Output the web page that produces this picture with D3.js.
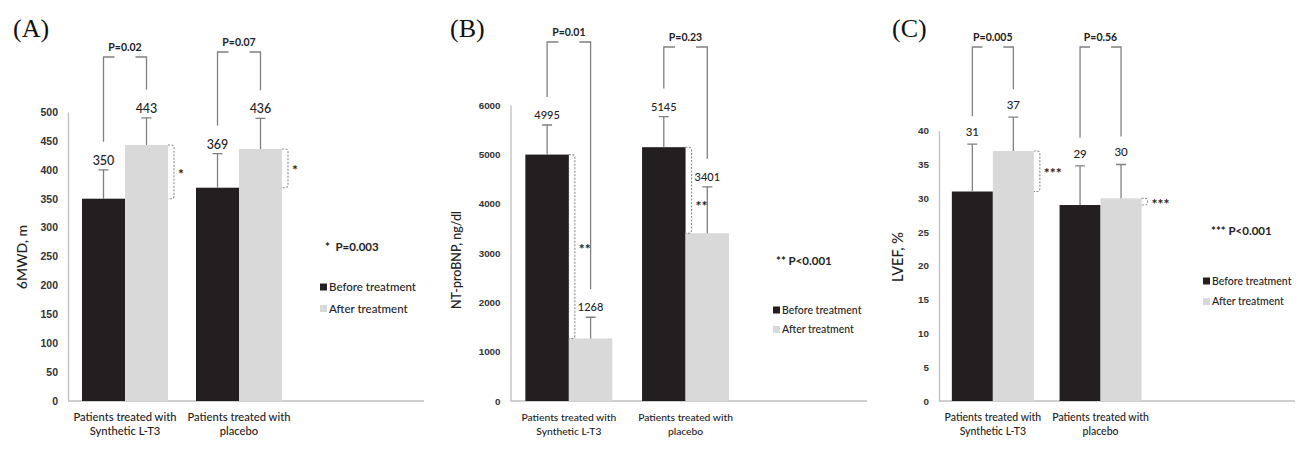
<!DOCTYPE html>
<html>
<head>
<meta charset="utf-8">
<script src="https://cdn.jsdelivr.net/npm/d3@7"></script>
<style>
  html, body { margin: 0; padding: 0; background: #fff; }
  svg { display: block; font-family: Lato, "Open Sans", sans-serif; }
</style>
</head>
<body>
<div id="chart"></div>
<script>
// data
const categories = ["Patients treated with Synthetic L-T3", "Patients treated with placebo"];
const categoryLines = [["Patients treated with", "Synthetic L-T3"], ["Patients treated with", "placebo"]];
const series = ["Before treatment", "After treatment"];

// (A) 6MWD
const mwdBefore = [350, 369];
const mwdAfter = [443, 436];
const mwdSdBefore = [50, 59];
const mwdSdAfter = [47, 53];
const mwdP = ["P=0.02", "P=0.07"];
const mwdTicks = [0, 50, 100, 150, 200, 250, 300, 350, 400, 450, 500];

// (B) NT-proBNP
const bnpBefore = [4995, 5145];
const bnpAfter = [1268, 3401];
const bnpSdBefore = [600, 620];
const bnpSdAfter = [430, 940];
const bnpP = ["P=0.01", "P=0.23"];
const bnpTicks = [0, 1000, 2000, 3000, 4000, 5000, 6000];

// (C) LVEF
const lvefBefore = [31, 29];
const lvefAfter = [37, 30];
const lvefSdBefore = [7, 5.8];
const lvefSdAfter = [5, 5];
const lvefP = ["P=0.005", "P=0.56"];
const lvefTicks = [0, 5, 10, 15, 20, 25, 30, 35, 40];

const colors = { before: '#231f20', after: '#d9d9d9', axis: '#bfbfbf', line: '#808080', text: '#222' };

const width = 1302;
const height = 457;

const svg = d3.select('#chart')
	.append('svg')
	.attr('width', width)
	.attr('height', height)
	.attr('viewBox', [0, 0, width, height]);

// 每个面板的布局
const panels = [
	{
		letter: '(A)', letterX: 13, x0: 68, yTop: 112, yBottom: 401, xEnd: 424, step: 114, bw: 86,
		max: 500, ticks: mwdTicks, before: mwdBefore, after: mwdAfter, sdBefore: mwdSdBefore, sdAfter: mwdSdAfter,
		p: mwdP, bracketTop: [57, 52], star: '*', starDy: [0, 0], note: '*  P=0.003', noteX: 325, noteY: 251,
		legX: 320, legY: 287, legGap: 21.5, yLabel: '6MWD, m', yLabelX: 22, yLabelY: 257,
		tickFont: 10.5, valueFont: 12.5, catFont: 11.2, legFont: 11.5, pFont: 10.5, yFont: 14, labelGap: 5
	},
	{
		letter: '(B)', letterX: 450, x0: 510.5, yTop: 105, yBottom: 401, xEnd: 867, step: 116.7, bw: 87,
		max: 6000, ticks: bnpTicks, before: bnpBefore, after: bnpAfter, sdBefore: bnpSdBefore, sdAfter: bnpSdAfter,
		p: bnpP, bracketTop: [42, 47], star: '**', starDy: [0, 14], note: '** P<0.001', noteX: 776, noteY: 265,
		legX: 773, legY: 310, legGap: 19.5, yLabel: 'NT-proBNP, ng/dl', yLabelX: 457, yLabelY: 260,
		tickFont: 9.8, valueFont: 11, catFont: 10.3, legFont: 10.5, pFont: 10.5, yFont: 12.5, labelGap: 6
	},
	{
		letter: '(C)', letterX: 892, x0: 939, yTop: 130.7, yBottom: 401, xEnd: 1295, step: 107.7, bw: 82,
		max: 40, ticks: lvefTicks, before: lvefBefore, after: lvefAfter, sdBefore: lvefSdBefore, sdAfter: lvefSdAfter,
		p: lvefP, bracketTop: [47, 47], star: '***', starDy: [0, 0], note: '*** P<0.001', noteX: 1211, noteY: 235,
		legX: 1203, legY: 281, legGap: 20.7, yLabel: 'LVEF, %', yLabelX: 898, yLabelY: 257,
		tickFont: 9.8, valueFont: 11.5, catFont: 10.5, legFont: 10.5, pFont: 10.5, yFont: 14.5, labelGap: 8
	}
];

function drawPanel(cfg) {
	const g = svg.append('g');

	const y = d3.scaleLinear()
		.domain([0, cfg.max])
		.range([cfg.yBottom, cfg.yTop]);

	const pad = 1 - cfg.bw / cfg.step;
	const x = d3.scaleBand()
		.domain(categories)
		.range([cfg.x0, cfg.x0 + 2 * cfg.step])
		.paddingInner(pad)
		.paddingOuter(pad / 2);

	const xs = d3.scaleBand()
		.domain(series)
		.range([0, x.bandwidth()]);

	const rows = categories.map((c, i) => ({
		cat: c,
		i,
		bars: [
			{ s: series[0], v: cfg.before[i], sd: cfg.sdBefore[i], fill: colors.before },
			{ s: series[1], v: cfg.after[i], sd: cfg.sdAfter[i], fill: colors.after }
		]
	}));
	const barX = (r, b) => x(r.cat) + xs(b.s);
	const barC = (r, b) => barX(r, b) + xs.bandwidth() / 2;

	// panel letter
	g.append('text')
		.attr('x', cfg.letterX)
		.attr('y', 37)
		.attr('font-family', '"Liberation Serif", "DejaVu Serif", serif')
		.attr('font-size', 26)
		.attr('fill', '#111')
		.text(cfg.letter);

	// y axis
	const yAxis = g.append('g')
		.attr('transform', `translate(${cfg.x0},0)`)
		.call(d3.axisLeft(y).tickValues(cfg.ticks).tickSize(0).tickPadding(10).tickFormat(d3.format('d')));
	yAxis.select('.domain').attr('stroke', colors.axis).attr('stroke-width', 1.3);
	yAxis.selectAll('text')
		.attr('font-size', cfg.tickFont)
		.attr('font-weight', 'bold')
		.attr('fill', '#333');

	// x axis line
	g.append('line')
		.attr('x1', cfg.x0).attr('x2', cfg.xEnd)
		.attr('y1', y(0)).attr('y2', y(0))
		.attr('stroke', colors.axis)
		.attr('stroke-width', 1.3);

	// bars
	const grp = g.selectAll('.grp')
		.data(rows)
		.join('g')
		.attr('class', 'grp');

	grp.selectAll('rect')
		.data(r => r.bars.map(b => ({ r, b })))
		.join('rect')
		.attr('x', d => barX(d.r, d.b))
		.attr('y', d => y(d.b.v))
		.attr('width', xs.bandwidth())
		.attr('height', d => y(0) - y(d.b.v))
		.attr('fill', d => d.b.fill);

	// error bars
	grp.selectAll('.err')
		.data(r => r.bars.map(b => ({ r, b })))
		.join('path')
		.attr('class', 'err')
		.attr('d', d => {
			const cx = barC(d.r, d.b);
			const t = y(d.b.v + d.b.sd);
			return `M${cx},${y(d.b.v)}V${t}M${cx - 5},${t}H${cx + 5}`;
		})
		.attr('fill', 'none')
		.attr('stroke', colors.line)
		.attr('stroke-width', 1.3);

	// value labels
	grp.selectAll('.val')
		.data(r => r.bars.map(b => ({ r, b })))
		.join('text')
		.attr('class', 'val')
		.attr('x', d => barC(d.r, d.b))
		.attr('y', d => y(d.b.v + d.b.sd) - cfg.labelGap)
		.attr('text-anchor', 'middle')
		.attr('font-size', cfg.valueFont)
		.attr('font-weight', 500)
		.attr('fill', colors.text)
		.text(d => d.b.v);

	// P-value brackets between before/after
	rows.forEach(r => {
		const [b0, b1] = r.bars;
		const xl = barC(r, b0), xr = barC(r, b1);
		const top = cfg.bracketTop[r.i];
		const mid = (xl + xr) / 2;
		const yl = y(b0.v + b0.sd) - 28;
		const yr = y(b1.v + b1.sd) - 28;
		g.append('path')
			.attr('d', `M${xl},${yl}V${top}H${mid - 10.5}M${mid + 10.5},${top}H${xr}V${yr}`)
			.attr('fill', 'none')
			.attr('stroke', colors.line)
			.attr('stroke-width', 1.3);
		g.append('text')
			.attr('x', mid)
			.attr('y', top - 6)
			.attr('text-anchor', 'middle')
			.attr('font-size', cfg.pFont)
			.attr('font-weight', 'bold')
			.attr('fill', colors.text)
			.text(cfg.p[r.i]);

		// dashed significance bracket
		const hi = b1.v >= b0.v ? b1 : b0;
		const lo = hi === b1 ? b0 : b1;
		const edge = barX(r, hi) + xs.bandwidth();
		const bx = edge + 6;
		const y1 = y(hi.v), y2 = y(lo.v);
		const rr = Math.min(3, (y2 - y1) / 2);
		g.append('path')
			.attr('d', `M${edge},${y1}H${bx - rr}Q${bx},${y1} ${bx},${y1 + rr}V${y2 - rr}Q${bx},${y2} ${bx - rr},${y2}H${edge}`)
			.attr('fill', 'none')
			.attr('stroke', '#8c8c8c')
			.attr('stroke-width', 1.1)
			.attr('stroke-dasharray', '2,1.5');
		g.append('text')
			.attr('x', bx + 4)
			.attr('y', (y1 + y2) / 2 + 7 + cfg.starDy[r.i])
			.attr('font-size', 14)
			.attr('font-weight', 'bold')
			.attr('fill', colors.text)
			.text(cfg.star);
	});

	// category labels
	rows.forEach(r => {
		const t = g.append('text')
			.attr('x', x(r.cat) + x.bandwidth() / 2)
			.attr('y', 420.5)
			.attr('text-anchor', 'middle')
			.attr('font-size', cfg.catFont)
			.attr('font-weight', 500)
			.attr('fill', colors.text);
		categoryLines[r.i].forEach((ln, k) => {
			t.append('tspan')
				.attr('x', x(r.cat) + x.bandwidth() / 2)
				.attr('dy', k === 0 ? 0 : 14.5)
				.text(ln);
		});
	});

	// y label
	g.append('text')
		.attr('transform', `translate(${cfg.yLabelX},${cfg.yLabelY}) rotate(-90)`)
		.attr('text-anchor', 'middle')
		.attr('dy', '0.35em')
		.attr('font-size', cfg.yFont)
		.attr('font-weight', 500)
		.attr('fill', colors.text)
		.text(cfg.yLabel);

	// note
	g.append('text')
		.attr('x', cfg.noteX)
		.attr('y', cfg.noteY)
		.attr('font-size', 11.5)
		.attr('font-weight', 'bold')
		.attr('fill', colors.text)
		.attr('xml:space', 'preserve')
		.text(cfg.note);

	// legend
	const leg = g.selectAll('.leg')
		.data(series)
		.join('g')
		.attr('class', 'leg')
		.attr('transform', (d, i) => `translate(${cfg.legX},${cfg.legY + i * cfg.legGap})`);
	leg.append('rect')
		.attr('x', 0).attr('y', -3.5)
		.attr('width', 7).attr('height', 7)
		.attr('fill', (d, i) => i === 0 ? colors.before : colors.after);
	leg.append('text')
		.attr('x', 9)
		.attr('dy', '0.36em')
		.attr('font-size', cfg.legFont)
		.attr('font-weight', 500)
		.attr('fill', colors.text)
		.text(d => d);
}

panels.forEach(drawPanel);
</script>
</body>
</html>
